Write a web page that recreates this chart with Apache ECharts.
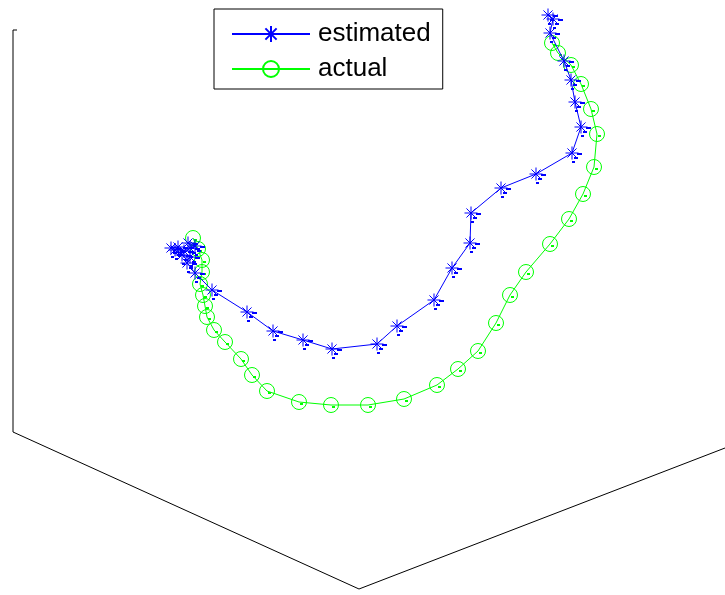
<!DOCTYPE html>
<html>
<head>
<meta charset="utf-8">
<script src="https://cdn.jsdelivr.net/npm/echarts@6/dist/echarts.min.js"></script>
<style>
  html, body { margin: 0; padding: 0; background: #fff; }
  #chart { width: 725px; height: 595px; }
</style>
</head>
<body>
<div id="chart"></div>
<script>
// Projected (view-plane) positions of the two trajectories
const estimated = [
  [548, 15], [553, 19], [550, 33], [564, 61], [571, 80], [575, 102], [581, 127],
  [572, 153], [536, 174], [501, 188], [471, 213], [470, 243], [452, 268], [434, 300],
  [397, 326], [377, 344], [332, 349], [303, 340], [273, 331], [247, 312], [212, 290],
  [195, 273], [187, 263], [190, 257], [182, 255], [175, 250], [171, 248], [178, 247],
  [184, 251], [190, 248], [195, 246], [188, 243]
];
const actual = [
  [552, 43], [558, 53], [571, 65], [581, 84], [591, 109], [597, 134], [594, 167],
  [583, 194], [569, 219], [550, 244], [526, 272], [510, 295], [496, 323], [478, 351],
  [458, 369], [437, 385], [404, 399], [368, 405], [331, 405], [299, 402], [267, 391],
  [252, 375], [241, 359], [225, 342], [214, 330], [207, 317], [205, 306], [203, 295],
  [200, 284], [202, 272], [202, 260], [198, 249], [193, 238]
];
// Visible edges of the 3-D axes box (z edge, x edge, y edge)
const axisFrame = [[17, 30], [13, 30], [13, 432], [359, 589], [725, 448]];

const seriesNames = ['estimated', 'actual'];

const asterisk = 'path://M0,-10L0,10M-10,0L10,0M-7,-7L7,7M-7,7L7,-7';

const chart = echarts.init(document.getElementById('chart'), null, { renderer: 'canvas' });

chart.setOption({
  animation: false,
  backgroundColor: '#ffffff',
  grid: { left: 0, right: 0, top: 0, bottom: 0 },
  xAxis: { type: 'value', min: 0, max: 725, show: false },
  yAxis: { type: 'value', min: 0, max: 595, inverse: true, show: false },
  legend: {
    data: seriesNames,
    orient: 'vertical',
    left: 214,
    top: 9,
    padding: [12, 12, 7, 17],
    itemGap: 9,
    itemWidth: 78,
    itemHeight: 20,
    backgroundColor: '#ffffff',
    borderColor: '#000000',
    borderWidth: 1,
    borderRadius: 0,
    selectedMode: false,
    textStyle: {
      color: '#000000',
      fontFamily: 'Liberation Sans, Arial, sans-serif',
      fontSize: 26,
      padding: [0, 0, 0, 3]
    }
  },
  series: [
    {
      name: 'axes',
      type: 'line',
      data: axisFrame,
      silent: true,
      symbol: 'none',
      lineStyle: { color: '#000000', width: 1 },
      z: 1
    },
    {
      name: 'estimated',
      type: 'line',
      data: estimated,
      symbol: asterisk,
      symbolSize: 13,
      showAllSymbol: true,
      color: '#0000ff',
      lineStyle: { color: '#0000ff', width: 1 },
      itemStyle: { color: 'rgba(0,0,0,0)', borderColor: '#0000ff', borderWidth: 1 },
      z: 3
    },
    {
      name: 'estimated-ticks',
      type: 'custom',
      data: estimated,
      silent: true,
      renderItem: function (params, api) {
        const p = api.coord([api.value(0), api.value(1)]);
        const seg = function (a, b, c, d) {
          return { type: 'line', shape: { x1: p[0] + a, y1: p[1] + b, x2: p[0] + c, y2: p[1] + d },
                   style: { stroke: '#0000ff', lineWidth: 2 } };
        };
        return { type: 'group', children: [seg(5, 1, 10, 1), seg(2, 5, 6, 5), seg(0, 9, 3, 9)] };
      },
      z: 3
    },
    {
      name: 'actual',
      type: 'line',
      data: actual,
      symbol: 'circle',
      symbolSize: 15,
      showAllSymbol: true,
      color: '#00ff00',
      lineStyle: { color: '#00ff00', width: 1 },
      itemStyle: { color: 'rgba(0,0,0,0)', borderColor: '#00ff00', borderWidth: 1 },
      z: 2
    },
    {
      name: 'actual-ticks',
      type: 'custom',
      data: actual,
      silent: true,
      renderItem: function (params, api) {
        const p = api.coord([api.value(0), api.value(1)]);
        return { type: 'line', shape: { x1: p[0] + 1, y1: p[1] + 2, x2: p[0] + 4, y2: p[1] + 2 },
                 style: { stroke: '#00ff00', lineWidth: 2 } };
      },
      z: 2
    }
  ]
});
</script>
</body>
</html>
